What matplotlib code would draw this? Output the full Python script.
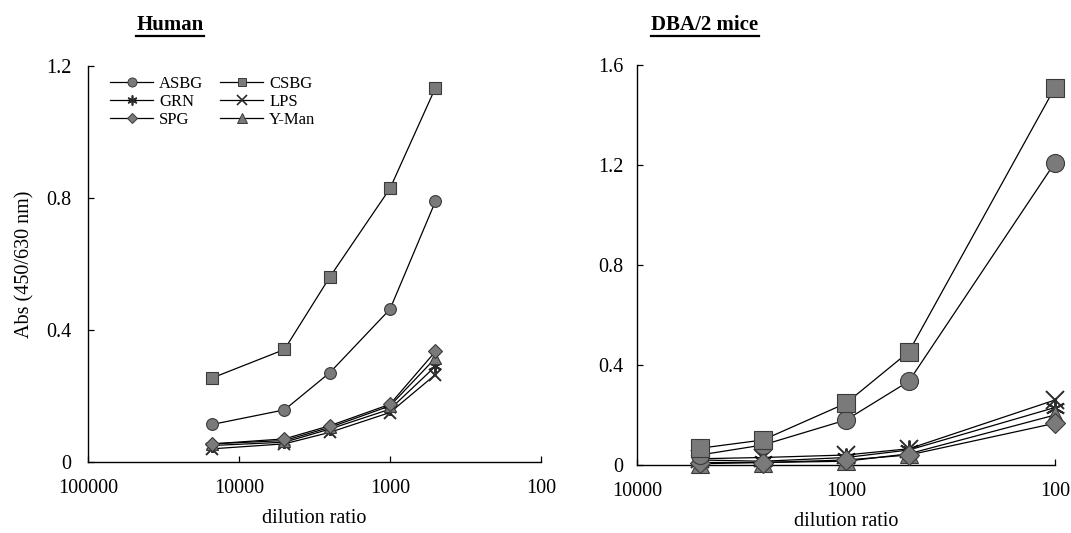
import matplotlib
matplotlib.use("Agg")
import matplotlib.pyplot as plt
from matplotlib.lines import Line2D
from matplotlib.ticker import FixedLocator, FixedFormatter

plt.rcParams['font.family'] = ['Liberation Serif', 'DejaVu Serif']

# ---- data ----
series = ["ASBG", "CSBG", "GRN", "LPS", "SPG", "Y-Man"]

dil_human = [15000, 5000, 2500, 1000, 500]
asbg_h = [0.114, 0.158, 0.271, 0.463, 0.790]
csbg_h = [0.255, 0.341, 0.561, 0.829, 1.134]
grn_h = [0.050, 0.060, 0.100, 0.160, 0.290]
lps_h = [0.040, 0.055, 0.090, 0.150, 0.265]
spg_h = [0.055, 0.070, 0.110, 0.175, 0.335]
yman_h = [0.055, 0.065, 0.105, 0.170, 0.315]

dil_mice = [5000, 2500, 1000, 500, 100]
asbg_m = [0.040, 0.080, 0.180, 0.335, 1.210]
csbg_m = [0.067, 0.100, 0.247, 0.453, 1.510]
grn_m = [0.020, 0.015, 0.030, 0.060, 0.230]
lps_m = [0.025, 0.030, 0.040, 0.065, 0.260]
spg_m = [0.010, 0.010, 0.020, 0.040, 0.167]
yman_m = [0.005, 0.010, 0.015, 0.045, 0.200]

human_ticks = [100000, 10000, 1000, 100]
human_ticklabels = ["100000", "10000", "1000", "100"]
human_yticks = [0, 0.4, 0.8, 1.2]
human_yticklabels = ["0", "0.4", "0.8", "1.2"]
mice_ticks = [10000, 1000, 100]
mice_ticklabels = ["10000", "1000", "100"]
mice_yticks = [0, 0.4, 0.8, 1.2, 1.6]
mice_yticklabels = ["0", "0.4", "0.8", "1.2", "1.6"]

# ---- style ----
markers = {"ASBG": "o", "CSBG": "s", "GRN": (6, 2, 0), "LPS": "x",
           "SPG": "D", "Y-Man": "^"}
msize_scale = {"ASBG": 1.0, "CSBG": 0.95, "GRN": 1.1, "LPS": 1.0,
               "SPG": 0.8, "Y-Man": 1.05}
face = "#7a7a7a"
edge = "#3a3a3a"

W, H = 1071, 533
fig = plt.figure(figsize=(W / 100, H / 100), dpi=100)

def px_axes(x0, x1, y_top, y_bot):
    return fig.add_axes([x0 / W, 1 - y_bot / H, (x1 - x0) / W, (y_bot - y_top) / H])

ax1 = px_axes(88, 541, 66, 462)
ax2 = px_axes(637, 1055, 65, 465)

def draw(ax, x, data, ms):
    for name, y in data:
        m = markers[name]
        is_line = name in ("GRN", "LPS")
        ax.plot(x, y, color="black", lw=0.9, marker=m,
                markersize=ms * msize_scale[name],
                markerfacecolor=face,
                markeredgecolor="#2a2a2a" if is_line else edge,
                markeredgewidth=1.4 if is_line else 0.8,
                clip_on=False, zorder=3)

draw(ax1, dil_human, [("GRN", grn_h), ("LPS", lps_h), ("Y-Man", yman_h),
                      ("SPG", spg_h), ("ASBG", asbg_h), ("CSBG", csbg_h)], 8.5)
draw(ax2, dil_mice, [("GRN", grn_m), ("LPS", lps_m), ("Y-Man", yman_m),
                     ("SPG", spg_m), ("ASBG", asbg_m), ("CSBG", csbg_m)], 13)

def style(ax, xlim, xt, xtl, ylim, yt, ytl, ypad):
    ax.set_xscale("log")
    ax.set_xlim(*xlim)
    ax.set_ylim(*ylim)
    ax.xaxis.set_major_locator(FixedLocator(xt))
    ax.xaxis.set_major_formatter(FixedFormatter(xtl))
    ax.xaxis.set_minor_locator(FixedLocator([]))
    ax.yaxis.set_major_locator(FixedLocator(yt))
    ax.yaxis.set_major_formatter(FixedFormatter(ytl))
    for s in ("top", "right"):
        ax.spines[s].set_visible(False)
    for s in ("left", "bottom"):
        ax.spines[s].set_linewidth(1.0)
    ax.tick_params(axis="x", direction="in", length=4, width=0.9,
                   labelsize=14.5, pad=12)
    ax.tick_params(axis="y", direction="in", length=4, width=0.9,
                   labelsize=14.5, pad=ypad)
    ax.set_xlabel("dilution ratio", fontsize=14.5, labelpad=8)
    ax.patch.set_alpha(0)

style(ax1, (100000, 100), human_ticks, human_ticklabels, (0, 1.2),
      human_yticks, human_yticklabels, 12)
style(ax2, (10000, 100), mice_ticks, mice_ticklabels, (0, 1.6),
      mice_yticks, mice_yticklabels, 10)
ax1.set_ylabel("Abs (450/630 nm)", fontsize=14.5, labelpad=8)

# legend
handles = []
for name in ["ASBG", "GRN", "SPG", "CSBG", "LPS", "Y-Man"]:
    is_line = name in ("GRN", "LPS")
    handles.append(Line2D([], [], color="black", lw=0.9, marker=markers[name],
                          markersize=6.5 * msize_scale[name],
                          markerfacecolor=face,
                          markeredgecolor="#2a2a2a" if is_line else edge,
                          markeredgewidth=1.2 if is_line else 0.7,
                          label=name))
fig.legend(handles=handles, ncol=2, loc="upper left",
           bbox_to_anchor=(110 / W, 1 - 76 / H), frameon=False,
           fontsize=12, handlelength=2.6, handletextpad=0.35,
           columnspacing=1.0, labelspacing=0.12, borderpad=0,
           borderaxespad=0)

# titles with underline
renderer = fig.canvas.get_renderer()
for label, cx in (("Human", 170), ("DBA/2 mice", 705)):
    t = fig.text(cx / W, 1 - 30 / H, label, ha="center", va="baseline",
                 fontsize=15, fontweight="bold")
    bb = t.get_window_extent(renderer=renderer)
    yline = bb.y0 - 1
    fig.add_artist(Line2D([bb.x0 / W, bb.x1 / W], [yline / H, yline / H],
                          color="black", lw=1.6, transform=fig.transFigure))

fig.savefig("out.png", dpi=100)
